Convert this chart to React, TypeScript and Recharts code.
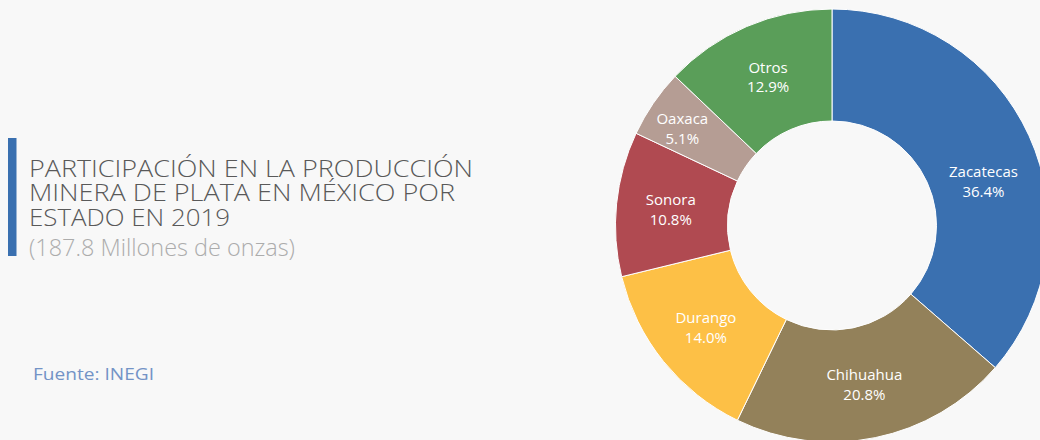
import { PieChart, Pie, Cell } from 'recharts';

const states = ['Zacatecas', 'Chihuahua', 'Durango', 'Sonora', 'Oaxaca', 'Otros'];
const shares = [36.4, 20.8, 14.0, 10.8, 5.1, 12.9];
const colors = ['#3A70B0', '#93815A', '#FDC046', '#B04A51', '#B59D94', '#5A9E59'];

const titleLines = ['PARTICIPACIÓN EN LA PRODUCCIÓN', 'MINERA DE PLATA EN MÉXICO POR', 'ESTADO EN 2019'];
const subtitle = '(187.8 Millones de onzas)';
const source = 'Fuente: INEGI';

const data = states.map((name, i) => ({ name, value: shares[i] }));

// small label shifts, in px, where the original moves a label off the slice middle
const labelNudge: Record<string, [number, number]> = {
  Zacatecas: [4, 23],
  Oaxaca: [-16, -6],
};

const RAD = Math.PI / 180;
const font = '"Open Sans", sans-serif';

const renderLabel = (props: any) => {
  const { cx, cy, midAngle, name, value } = props;
  const r = 162;
  const [dx, dy] = labelNudge[name] || [0, 0];
  const x = cx + r * Math.cos(-midAngle * RAD) + dx;
  const y = cy + r * Math.sin(-midAngle * RAD) + dy;
  return (
    <text x={x} y={y} fill="#fff" textAnchor="middle" fontFamily={font} fontSize={15}>
      <tspan x={x} y={y - 4}>{name}</tspan>
      <tspan x={x} y={y + 15.5}>{value.toFixed(1)}%</tspan>
    </text>
  );
};

export default function App() {
  return (
    <div style={{ position: 'absolute', left: 0, top: 0, width: 1040, height: 440, background: '#f8f8f8', overflow: 'hidden' }}>
      <svg width={1040} height={440} style={{ position: 'absolute', left: 0, top: 0 }}>
        <rect x={8} y={138} width={8.5} height={118} fill="#3A70B0" />
        <text fontFamily={font} fontWeight={300} fontSize={23} fill="#595959">
          {titleLines.map((t, i) => (
            <tspan
              key={t}
              x={29}
              y={176.5 + i * 24.8}
              textLength={[444, 426, 201][i]}
              lengthAdjust="spacingAndGlyphs"
            >
              {t}
            </tspan>
          ))}
        </text>
        <text x={29} y={255.5} fontFamily={font} fontWeight={300} fontSize={23} fill="#acacac" textLength={266} lengthAdjust="spacingAndGlyphs">
          {subtitle}
        </text>
        <text x={33} y={380} fontFamily={font} fontSize={17} fill="#7393C6" textLength={121} lengthAdjust="spacingAndGlyphs">
          {source}
        </text>
      </svg>
      <div style={{ position: 'absolute', left: 0, top: 0 }}>
        <PieChart width={1040} height={440} margin={{ top: 0, right: 0, bottom: 0, left: 0 }}>
          <Pie
            data={data}
            dataKey="value"
            nameKey="name"
            cx={832}
            cy={225.5}
            innerRadius={104.5}
            outerRadius={216.5}
            startAngle={90}
            endAngle={-270}
            stroke="#ffffff"
            strokeWidth={1}
            label={renderLabel}
            labelLine={false}
            isAnimationActive={false}
          >
            {data.map((d, i) => (
              <Cell key={d.name} fill={colors[i]} />
            ))}
          </Pie>
        </PieChart>
      </div>
    </div>
  );
}
